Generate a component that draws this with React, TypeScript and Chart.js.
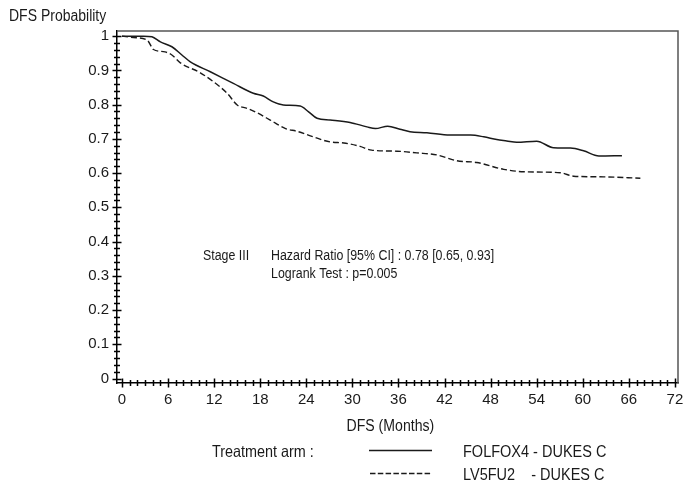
import React, { useEffect, useRef } from 'react';
import { Chart, registerables } from 'chart.js';

Chart.register(...registerables);

// ---- Data ----
const folfoxMonths = [0, 2.8, 3.9, 5.0, 6.5, 7.8, 8.9, 11.5, 14.5, 17.1, 18.4, 19.7, 21.0, 23.2, 24.3, 25.4, 27.1, 29.7, 31.9, 33.0, 34.6, 36.2, 37.5, 39.7, 42.7, 45.4, 47.1, 48.8, 50.1, 51.4, 54.0, 56.2, 58.4, 60.1, 62.1, 65.1];
const folfoxDfs = [1, 1, 0.998, 0.983, 0.969, 0.945, 0.925, 0.896, 0.862, 0.833, 0.825, 0.808, 0.799, 0.796, 0.779, 0.760, 0.755, 0.748, 0.735, 0.730, 0.737, 0.728, 0.721, 0.718, 0.711, 0.711, 0.706, 0.698, 0.694, 0.690, 0.693, 0.674, 0.673, 0.665, 0.650, 0.651];

const lv5fu2Months = [0, 1.5, 3.3, 4.1, 5.6, 6.5, 7.6, 10.2, 11.9, 13.7, 15.0, 16.3, 17.6, 19.3, 21.3, 22.8, 24.9, 27.1, 28.9, 31.0, 32.5, 35.8, 38.4, 41.0, 43.6, 46.2, 49.7, 52.3, 57.1, 58.8, 62.7, 67.5];
const lv5fu2Dfs = [1, 0.996, 0.988, 0.961, 0.954, 0.945, 0.922, 0.893, 0.867, 0.833, 0.799, 0.789, 0.776, 0.755, 0.730, 0.722, 0.706, 0.691, 0.688, 0.678, 0.667, 0.664, 0.659, 0.653, 0.636, 0.631, 0.611, 0.604, 0.601, 0.591, 0.589, 0.585];

const xTickValues = [0, 6, 12, 18, 24, 30, 36, 42, 48, 54, 60, 66, 72];
const xTickLabels = ['0', '6', '12', '18', '24', '30', '36', '42', '48', '54', '60', '66', '72'];
const yTickValues = [0, 0.1, 0.2, 0.3, 0.4, 0.5, 0.6, 0.7, 0.8, 0.9, 1];
const yTickLabels = ['0', '0.1', '0.2', '0.3', '0.4', '0.5', '0.6', '0.7', '0.8', '0.9', '1'];
const xMinorStep = 1;
const xMinorMax = 72;
const yMinorStep = 0.02;
const yMinorCount = 50;

const seriesNames = ['FOLFOX4 - DUKES C', 'LV5FU2    - DUKES C'];
const yTitle = 'DFS Probability';
const xTitle = 'DFS (Months)';
const annotationStage = 'Stage III';
const annotationLines = ['Hazard Ratio [95% CI] : 0.78 [0.65, 0.93]', 'Logrank Test : p=0.005'];
const legendTitle = 'Treatment arm :';

const FONT = "'Liberation Sans', Arial, sans-serif";
const INK = '#1a1a1a';
const STRETCH = 1.16;

function drawText(ctx: CanvasRenderingContext2D, text: string, x: number, y: number, size: number) {
  ctx.save();
  ctx.font = `${size}px ${FONT}`;
  ctx.translate(x, y);
  ctx.scale(1, STRETCH);
  ctx.fillText(text, 0, 0);
  ctx.restore();
}

const decorPlugin = {
  id: 'decor',
  afterDraw(chart: any) {
    const ctx = chart.ctx;
    const { left, right, top, bottom } = chart.chartArea;
    const xs = chart.scales.x;
    const ys = chart.scales.y;
    ctx.save();
    // frame (top & right)
    ctx.strokeStyle = '#555';
    ctx.lineWidth = 1.5;
    ctx.beginPath();
    ctx.moveTo(left, top);
    ctx.lineTo(right, top);
    ctx.lineTo(right, bottom);
    ctx.stroke();

    // crossing ticks
    ctx.strokeStyle = '#000';
    ctx.lineWidth = 1.5;
    ctx.beginPath();
    for (let i = 0; i * xMinorStep <= xMinorMax; i++) {
      const m = i * xMinorStep;
      const px = Math.round(xs.getPixelForValue(m)) + 0.5;
      const L = m % 6 === 0 ? 4.5 : 3;
      ctx.moveTo(px, bottom - L);
      ctx.lineTo(px, bottom + L);
    }
    for (let i = 0; i <= yMinorCount; i++) {
      const v = i * yMinorStep;
      const py = Math.round(ys.getPixelForValue(v)) + 0.5;
      const L = i % 5 === 0 ? 4.5 : 3;
      ctx.moveTo(left - L, py);
      ctx.lineTo(left + L, py);
    }
    ctx.stroke();

    // texts
    ctx.fillStyle = INK;
    ctx.textBaseline = 'alphabetic';
    ctx.textAlign = 'left';
    drawText(ctx, yTitle, 9, 20.5, 14);
    drawText(ctx, xTitle, 346.5, 430.5, 14.1);

    drawText(ctx, annotationStage, 203, 259.5, 12.4);
    drawText(ctx, annotationLines[0], 271, 259.5, 12.4);
    drawText(ctx, annotationLines[1], 271, 277.5, 12.4);

    // legend
    drawText(ctx, legendTitle, 212, 457, 14.4);
    drawText(ctx, seriesNames[0], 463, 457, 14.5);
    drawText(ctx, seriesNames[1], 463, 480, 14.5);
    ctx.strokeStyle = INK;
    ctx.lineWidth = 1.5;
    ctx.beginPath();
    ctx.moveTo(369, 450.5);
    ctx.lineTo(432, 450.5);
    ctx.stroke();
    ctx.setLineDash([5.5, 2.3]);
    ctx.beginPath();
    ctx.moveTo(370, 473.5);
    ctx.lineTo(432, 473.5);
    ctx.stroke();
    ctx.restore();
  },
};

export default function App() {
  const ref = useRef<HTMLCanvasElement | null>(null);
  useEffect(() => {
    if (!ref.current) return;
    const chart = new Chart(ref.current, {
      type: 'line',
      data: {
        datasets: [
          {
            label: seriesNames[0],
            data: folfoxMonths.map((m, i) => ({ x: m, y: folfoxDfs[i] })),
            borderColor: INK,
            borderWidth: 1.5,
            pointRadius: 0,
            tension: 0.3,
            cubicInterpolationMode: 'monotone',
            fill: false,
          },
          {
            label: seriesNames[1],
            data: lv5fu2Months.map((m, i) => ({ x: m, y: lv5fu2Dfs[i] })),
            borderColor: INK,
            borderWidth: 1.4,
            borderDash: [6, 3],
            pointRadius: 0,
            tension: 0.3,
            cubicInterpolationMode: 'monotone',
            fill: false,
          },
        ],
      },
      options: {
        responsive: false,
        animation: false,
        layout: { padding: { top: 31, right: 19, left: 0, bottom: 0 } },
        plugins: { legend: { display: false }, tooltip: { enabled: false }, title: { display: false } },
        scales: {
          x: {
            type: 'linear',
            min: -0.65,
            max: 72.4,
            grid: { display: false, drawTicks: false },
            border: { display: true, color: '#000', width: 1.5 },
            afterBuildTicks: (scale: any) => {
              scale.ticks = xTickValues.map((v) => ({ value: v }));
            },
            afterFit: (scale: any) => {
              scale.height = 104;
            },
            ticks: {
              autoSkip: false,
              maxRotation: 0,
              padding: 8,
              color: INK,
              font: { family: FONT, size: 15 },
              callback: (v: any) => {
                const i = xTickValues.indexOf(Number(v));
                return i >= 0 ? xTickLabels[i] : '';
              },
            },
          },
          y: {
            type: 'linear',
            min: -0.013,
            max: 1.015,
            grid: { display: false, drawTicks: false },
            border: { display: true, color: '#000', width: 1.5 },
            afterBuildTicks: (scale: any) => {
              scale.ticks = yTickValues.map((v) => ({ value: v }));
            },
            afterFit: (scale: any) => {
              scale.width = 117;
            },
            ticks: {
              autoSkip: false,
              padding: 8,
              color: INK,
              font: { family: FONT, size: 15 },
              callback: (v: any) => {
                const i = yTickValues.findIndex((t) => Math.abs(t - Number(v)) < 1e-9);
                return i >= 0 ? yTickLabels[i] : '';
              },
            },
          },
        },
      },
      plugins: [decorPlugin],
    } as any);
    return () => chart.destroy();
  }, []);

  return (
    <div style={{ position: 'absolute', left: 0, top: 0, width: 697, height: 487, background: '#fff' }}>
      <canvas ref={ref} width={697} height={487} style={{ width: 697, height: 487 }} />
    </div>
  );
}
